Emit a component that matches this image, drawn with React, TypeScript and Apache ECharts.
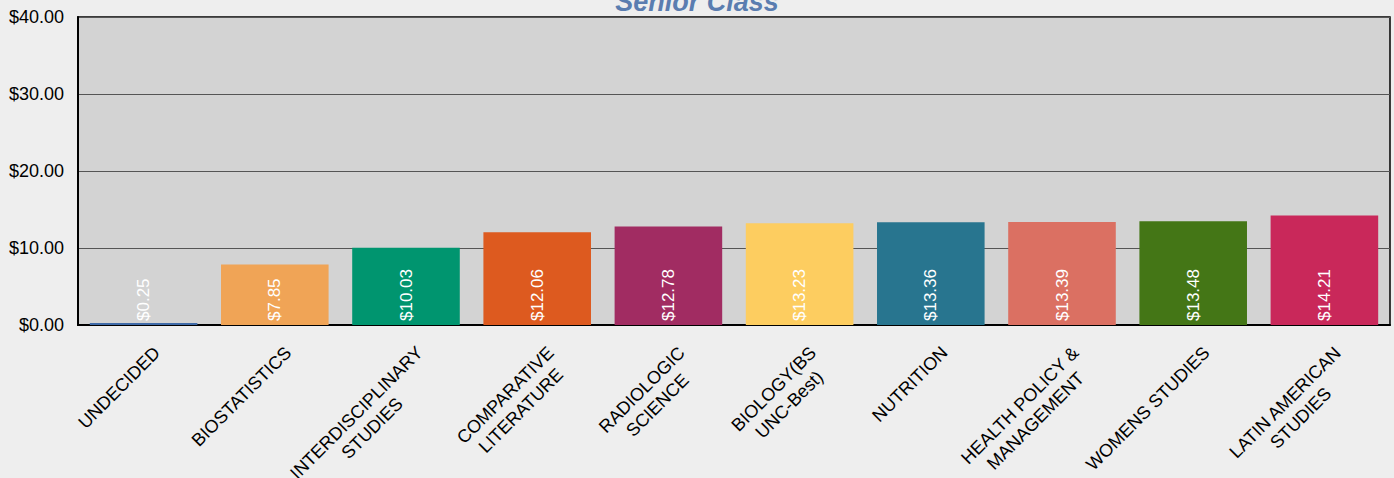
import React, { useEffect, useRef } from "react";
import * as echarts from "echarts";

const categories = [
  "UNDECIDED",
  "BIOSTATISTICS",
  "INTERDISCIPLINARY\nSTUDIES",
  "COMPARATIVE\nLITERATURE",
  "RADIOLOGIC\nSCIENCE",
  "BIOLOGY(BS\nUNC-Best)",
  "NUTRITION",
  "HEALTH POLICY &\nMANAGEMENT",
  "WOMENS STUDIES",
  "LATIN AMERICAN\nSTUDIES",
];
const values = [0.25, 7.85, 10.03, 12.06, 12.78, 13.23, 13.36, 13.39, 13.48, 14.21];
const colors = [
  "#3f6aa8",
  "#f0a456",
  "#00956f",
  "#dd5a1f",
  "#a12c62",
  "#fdcd60",
  "#28758f",
  "#db7062",
  "#447616",
  "#c9285a",
];
const yTicks = [0, 10, 20, 30, 40];
const titleText = "Senior Class";

const FONT = "Arial, 'Liberation Sans', sans-serif";

export default function App() {
  const ref = useRef<HTMLDivElement>(null);
  useEffect(() => {
    if (!ref.current) return;
    const chart = echarts.init(ref.current, null, { renderer: "svg" });
    const cv = document.createElement("canvas").getContext("2d")!;
    cv.font = "18px Arial, 'Liberation Sans', sans-serif";
    const rich: Record<string, any> = {};
    categories.forEach((c, i) => {
      const w = Math.max(...c.split("\n").map((l) => cv.measureText(l).width));
      rich["l" + i] = {
        width: Math.ceil(w) + 1,
        align: "center",
        fontSize: 18,
        fontFamily: FONT,
        color: "#000",
        lineHeight: 22,
      };
    });
    chart.setOption({
      animation: false,
      backgroundColor: "#eeeeee",
      graphic: [
        {
          type: "text",
          x: 697,
          y: 2,
          style: {
            text: titleText,
            font: "italic bold 27px Arial, 'Liberation Sans', sans-serif",
            fill: "#5a7db0",
            align: "center",
            verticalAlign: "middle",
          },
        },
      ],
      grid: {
        left: 78,
        right: 4,
        top: 17,
        bottom: 153,
        outerBoundsMode: "none",
        containLabel: false,
        show: true,
        backgroundColor: "#d3d3d3",
        borderColor: "#000",
        borderWidth: 1.5,
      },
      xAxis: {
        type: "category",
        data: categories,
        axisLine: { lineStyle: { color: "#000", width: 2 } },
        axisTick: { show: false },
        axisLabel: {
          interval: 0,
          rotate: 45,
          margin: 10,
          verticalAlign: "top",
          padding: [9, 0, 0, 0],
          formatter: (v: string) => {
            const i = categories.indexOf(v);
            return v
              .split("\n")
              .map((l) => `{l${i}|${l}}`)
              .join("\n");
          },
          rich,
        },
      },
      yAxis: {
        type: "value",
        min: 0,
        max: 40,
        interval: 10,
        axisLine: { show: true, lineStyle: { color: "#000", width: 2 } },
        axisTick: { show: false },
        splitLine: { lineStyle: { color: "#555", width: 1 } },
        axisLabel: {
          margin: 14,
          fontSize: 18,
          fontFamily: FONT,
          color: "#000",
          formatter: (v: number) =>
            yTicks.includes(v) ? `$${v.toFixed(2)}` : "",
        },
      },
      series: [
        {
          type: "bar",
          barCategoryGap: "18%",
          data: values.map((v, i) => ({ value: v, itemStyle: { color: colors[i] } })),
          label: {
            show: true,
            position: "insideBottom",
            rotate: 90,
            align: "left",
            verticalAlign: "middle",
            distance: 4,
            color: "#fff",
            fontSize: 17,
            fontFamily: FONT,
            formatter: (p: any) => `$${p.value.toFixed(2)}`,
          },
        },
      ],
    });
    return () => chart.dispose();
  }, []);
  return (
    <div
      ref={ref}
      style={{ position: "absolute", left: 0, top: 0, width: 1394, height: 478 }}
    />
  );
}
